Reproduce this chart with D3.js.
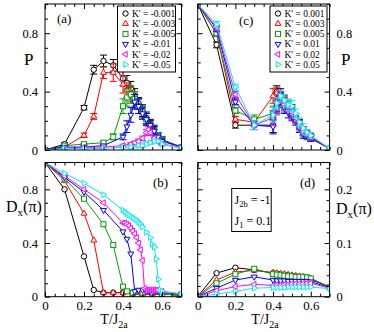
<!DOCTYPE html>
<html>
<head>
<meta charset="utf-8">
<script src="https://cdn.jsdelivr.net/npm/d3@7"></script>
<style>
  body { margin: 0; background: #fff; }
  svg { display: block; }
  text { font-family: "Liberation Serif", "DejaVu Serif", serif; fill: #000; }
</style>
</head>
<body>
<div id="chart"></div>
<script>
// legend texts
const legendA = ["K' = -0.001", "K' = -0.003", "K' = -0.005", "K' = -0.01", "K' = -0.02", "K' = -0.05"];
const legendC = ["K' = 0.001", "K' = 0.003", "K' = 0.005", "K' = 0.01", "K' = 0.02", "K' = 0.05"];

// panel (a): P vs T, K' < 0
const a1T = [0, 0.1, 0.2, 0.25, 0.3, 0.35, 0.4, 0.42, 0.44, 0.46, 0.48, 0.5, 0.52, 0.54, 0.56, 0.58, 0.6, 0.7];
const a1P = [0, 0.04, 0.29, 0.55, 0.61, 0.58, 0.49, 0.46, 0.42, 0.37, 0.32, 0.27, 0.22, 0.18, 0.14, 0.10, 0.07, 0.02];
const a1E = [0, 0.01, 0.015, 0.03, 0.04, 0.04, 0.05, 0.05, 0.05, 0.05, 0.04, 0.04, 0.04, 0.03, 0.03, 0.02, 0.02, 0.005];
const a2T = [0, 0.1, 0.2, 0.25, 0.3, 0.35, 0.4, 0.42, 0.44, 0.46, 0.48, 0.5, 0.52, 0.54, 0.56, 0.58, 0.6, 0.7];
const a2P = [0, 0.02, 0.10, 0.23, 0.53, 0.53, 0.45, 0.41, 0.38, 0.34, 0.30, 0.26, 0.21, 0.17, 0.13, 0.10, 0.07, 0.02];
const a2E = [0, 0.005, 0.015, 0.02, 0.04, 0.06, 0.06, 0.05, 0.05, 0.05, 0.05, 0.04, 0.04, 0.03, 0.03, 0.02, 0.02, 0.005];
const a3T = [0, 0.1, 0.2, 0.3, 0.35, 0.4, 0.42, 0.44, 0.46, 0.48, 0.5, 0.52, 0.54, 0.56, 0.58, 0.6, 0.7];
const a3P = [0, 0.03, 0.04, 0.05, 0.09, 0.30, 0.36, 0.38, 0.35, 0.30, 0.26, 0.21, 0.17, 0.13, 0.10, 0.07, 0.02];
const a3E = [0, 0.005, 0.005, 0.01, 0.02, 0.05, 0.06, 0.06, 0.05, 0.05, 0.04, 0.04, 0.03, 0.03, 0.02, 0.02, 0.005];
const a4T = [0, 0.1, 0.2, 0.3, 0.4, 0.42, 0.44, 0.46, 0.48, 0.5, 0.52, 0.54, 0.56, 0.58, 0.6, 0.7];
const a4P = [0, 0.02, 0.02, 0.03, 0.09, 0.16, 0.24, 0.33, 0.30, 0.25, 0.21, 0.17, 0.13, 0.09, 0.06, 0.02];
const a4E = [0, 0.005, 0.005, 0.005, 0.02, 0.04, 0.05, 0.05, 0.05, 0.04, 0.04, 0.03, 0.03, 0.02, 0.02, 0.005];
const a5T = [0, 0.1, 0.2, 0.3, 0.4, 0.44, 0.46, 0.48, 0.5, 0.52, 0.53, 0.54, 0.56, 0.58, 0.6, 0.7];
const a5P = [0, 0.01, 0.02, 0.02, 0.03, 0.04, 0.05, 0.06, 0.08, 0.12, 0.14, 0.12, 0.08, 0.06, 0.04, 0.02];
const a5E = [0, 0.005, 0.005, 0.005, 0.01, 0.01, 0.01, 0.015, 0.015, 0.02, 0.02, 0.02, 0.015, 0.01, 0.01, 0.005];
const a6T = [0, 0.1, 0.2, 0.3, 0.4, 0.44, 0.48, 0.5, 0.52, 0.54, 0.56, 0.58, 0.6, 0.7];
const a6P = [0, 0.01, 0.01, 0.01, 0.02, 0.02, 0.03, 0.03, 0.04, 0.05, 0.06, 0.06, 0.04, 0.01];
const a6E = [0, 0.005, 0.005, 0.005, 0.005, 0.01, 0.01, 0.01, 0.01, 0.01, 0.01, 0.01, 0.01, 0.005];

// panel (b): Dx(pi) vs T, K' < 0
const b1T = [0, 0.1, 0.2, 0.25, 0.3, 0.35, 0.4, 0.45, 0.5, 0.55, 0.6, 0.7];
const b1D = [1, 0.80, 0.30, 0.05, 0.03, 0.03, 0.03, 0.02, 0.02, 0.02, 0.02, 0.01];
const b2T = [0, 0.1, 0.2, 0.25, 0.3, 0.35, 0.4, 0.45, 0.5, 0.55, 0.6, 0.7];
const b2D = [1, 0.865, 0.62, 0.42, 0.03, 0.03, 0.03, 0.02, 0.02, 0.02, 0.02, 0.01];
const b3T = [0, 0.1, 0.2, 0.3, 0.35, 0.4, 0.42, 0.45, 0.5, 0.55, 0.6, 0.7];
const b3D = [1, 0.88, 0.73, 0.54, 0.385, 0.075, 0.04, 0.03, 0.03, 0.03, 0.02, 0.01];
const b4T = [0, 0.1, 0.2, 0.3, 0.4, 0.42, 0.44, 0.46, 0.48, 0.5, 0.52, 0.54, 0.56, 0.58, 0.6, 0.7];
const b4D = [1, 0.89, 0.78, 0.645, 0.485, 0.43, 0.32, 0.04, 0.05, 0.05, 0.04, 0.04, 0.04, 0.04, 0.03, 0.02];
const b5T = [0, 0.1, 0.2, 0.3, 0.4, 0.41, 0.42, 0.43, 0.44, 0.45, 0.46, 0.47, 0.48, 0.49, 0.5, 0.51, 0.52, 0.53, 0.54, 0.55, 0.56, 0.57, 0.58, 0.6, 0.7];
const b5D = [1, 0.90, 0.80, 0.70, 0.55, 0.55, 0.54, 0.53, 0.51, 0.49, 0.47, 0.44, 0.40, 0.35, 0.27, 0.06, 0.05, 0.05, 0.05, 0.05, 0.05, 0.05, 0.05, 0.04, 0.02];
const b6T = [0, 0.1, 0.2, 0.3, 0.4, 0.41, 0.42, 0.43, 0.44, 0.45, 0.46, 0.47, 0.48, 0.49, 0.5, 0.52, 0.54, 0.55, 0.56, 0.57, 0.58, 0.59, 0.6, 0.7];
const b6D = [1, 0.92, 0.845, 0.76, 0.645, 0.63, 0.62, 0.61, 0.60, 0.59, 0.58, 0.57, 0.555, 0.54, 0.52, 0.48, 0.44, 0.39, 0.37, 0.28, 0.13, 0.05, 0.04, 0.02];

// panels (c) and (d): K' > 0, common temperatures
const tCD = [0, 0.1, 0.2, 0.3, 0.4, 0.42, 0.44, 0.46, 0.48, 0.5, 0.52, 0.54, 0.56, 0.58, 0.6, 0.7];
const c1P = [1, 0.72, 0.17, 0.17, 0.17, 0.40, 0.38, 0.33, 0.30, 0.27, 0.22, 0.18, 0.13, 0.11, 0.09, 0.01];
const c2P = [1, 0.80, 0.21, 0.19, 0.37, 0.39, 0.36, 0.32, 0.30, 0.26, 0.22, 0.17, 0.13, 0.10, 0.08, 0.01];
const c3P = [1, 0.80, 0.27, 0.21, 0.25, 0.28, 0.33, 0.30, 0.29, 0.25, 0.21, 0.16, 0.12, 0.09, 0.08, 0.01];
const c4P = [1, 0.83, 0.33, 0.17, 0.16, 0.30, 0.35, 0.29, 0.26, 0.24, 0.20, 0.15, 0.11, 0.10, 0.08, 0.01];
const c5P = [1, 0.84, 0.38, 0.17, 0.22, 0.29, 0.36, 0.31, 0.30, 0.26, 0.22, 0.17, 0.13, 0.11, 0.09, 0.01];
const c6P = [1, 0.86, 0.43, 0.17, 0.24, 0.32, 0.37, 0.34, 0.31, 0.30, 0.25, 0.19, 0.15, 0.12, 0.10, 0.01];
const cE  = [0, 0.02, 0.02, 0.03, 0.05, 0.04, 0.04, 0.04, 0.04, 0.04, 0.03, 0.03, 0.03, 0.02, 0.02, 0.005];

const d1D = [0, 0.044, 0.054, 0.050, 0.044, 0.043, 0.042, 0.041, 0.040, 0.039, 0.038, 0.037, 0.036, 0.035, 0.032, 0.018];
const d2D = [0, 0.031, 0.046, 0.049, 0.045, 0.044, 0.043, 0.042, 0.041, 0.040, 0.039, 0.038, 0.037, 0.036, 0.034, 0.018];
const d3D = [0, 0.025, 0.042, 0.052, 0.042, 0.041, 0.040, 0.039, 0.038, 0.038, 0.037, 0.037, 0.037, 0.036, 0.034, 0.018];
const d4D = [0, 0.016, 0.031, 0.037, 0.031, 0.030, 0.030, 0.030, 0.029, 0.029, 0.029, 0.029, 0.029, 0.029, 0.028, 0.017];
const d5D = [0, 0.011, 0.019, 0.023, 0.021, 0.022, 0.022, 0.023, 0.023, 0.024, 0.024, 0.024, 0.025, 0.025, 0.025, 0.016];
const d6D = [0, 0.005, 0.010, 0.016, 0.017, 0.017, 0.017, 0.017, 0.018, 0.018, 0.018, 0.018, 0.018, 0.018, 0.018, 0.015];

const xTicks = [0, 0.2, 0.4, 0.6];
const xTickLabels = ['0', '0.2', '0.4', '0.6'];

const colors = ['#000000', '#ff0000', '#00a000', '#0000ff', '#ff00ff', '#00ecf0'];
const shapes = ['circle', 'up', 'square', 'down', 'left', 'right'];

const W = 374, H = 332;
const svg = d3.select('#chart').append('svg').attr('width', W).attr('height', H);
svg.append('rect').attr('width', W).attr('height', H).attr('fill', '#fff');

const zip = (xs, ys, es) => xs.map((t, i) => ({ x: t, y: ys[i], e: es ? es[i] : 0 }));

// Symbol zeichnen
function drawMarker(g, shape, px, py, color) {
  const r = 3.4;
  if (shape === 'circle') {
    g.append('circle').attr('cx', px).attr('cy', py).attr('r', 2.7)
      .attr('fill', '#fff').attr('stroke', color).attr('stroke-width', 1);
    return;
  }
  if (shape === 'square') {
    g.append('rect').attr('x', px - 2.5).attr('y', py - 2.5).attr('width', 5).attr('height', 5)
      .attr('fill', '#fff').attr('stroke', color).attr('stroke-width', 1);
    return;
  }
  const a = r * 0.866, b = r * 0.5;
  let pts;
  if (shape === 'up') pts = [[0, -r], [a, b], [-a, b]];
  else if (shape === 'down') pts = [[0, r], [a, -b], [-a, -b]];
  else if (shape === 'left') pts = [[-r, 0], [b, -a], [b, a]];
  else pts = [[r, 0], [-b, -a], [-b, a]];
  g.append('path')
    .attr('d', 'M' + pts.map(p => (px + p[0]) + ',' + (py + p[1])).join('L') + 'Z')
    .attr('fill', '#fff').attr('stroke', color).attr('stroke-width', 1);
}

function makePanel(cfg) {
  const x = d3.scaleLinear().domain([0, 0.7]).range([cfg.x0, cfg.x1]);
  const y = d3.scaleLinear().domain(cfg.yDom).range([cfg.y1, cfg.y0]);
  const g = svg.append('g');

  const clipId = 'clip' + cfg.id;
  svg.append('clipPath').attr('id', clipId).append('rect')
    .attr('x', cfg.x0).attr('y', cfg.y0).attr('width', cfg.x1 - cfg.x0).attr('height', cfg.y1 - cfg.y0);

  const plot = g.append('g').attr('clip-path', `url(#${clipId})`);
  const line = d3.line().x(d => x(d.x)).y(d => y(d.y));

  cfg.series.forEach((s, i) => {
    const sg = plot.append('g');
    sg.append('path').datum(s).attr('d', line)
      .attr('fill', 'none').attr('stroke', colors[i]).attr('stroke-width', 1);
    // Fehlerbalken
    s.filter(d => d.e > 0.004).forEach(d => {
      const px = x(d.x), yt = y(d.y + d.e), yb = y(d.y - d.e);
      sg.append('path')
        .attr('d', `M${px},${yt}V${yb}M${px - 3.5},${yt}H${px + 3.5}M${px - 3.5},${yb}H${px + 3.5}`)
        .attr('stroke', colors[i]).attr('stroke-width', 1).attr('fill', 'none');
    });
    s.forEach(d => drawMarker(sg, shapes[i], x(d.x), y(d.y), colors[i]));
  });

  // Achsen mit Innen-Ticks
  const xMinor = d3.range(0, 0.701, 0.05).filter(v => !xTicks.some(t => Math.abs(t - v) < 1e-6));
  const yMinor = d3.range(cfg.yDom[0], cfg.yDom[1] + 1e-6, cfg.yMinorStep)
    .filter(v => !cfg.yTicks.some(t => Math.abs(t - v) < 1e-6));

  const style = sel => {
    sel.select('.domain').remove();
    sel.selectAll('line').attr('stroke', '#000').attr('stroke-width', 1);
    sel.selectAll('text').attr('font-family', '"Liberation Serif","DejaVu Serif",serif').attr('fill', '#000');
  };

  g.append('g').attr('transform', `translate(0,${cfg.y1})`)
    .call(d3.axisBottom(x).tickValues(xTicks).tickSize(-5).tickPadding(4)
      .tickFormat(cfg.bottomLabels ? (d, i) => xTickLabels[i] : ''))
    .call(style).call(s => s.selectAll('text').attr('font-size', 13));
  g.append('g').attr('transform', `translate(0,${cfg.y1})`)
    .call(d3.axisBottom(x).tickValues(xMinor).tickSize(-3).tickFormat('')).call(style);
  g.append('g').attr('transform', `translate(0,${cfg.y0})`)
    .call(d3.axisTop(x).tickValues(xTicks).tickSize(-5).tickFormat('')).call(style);
  g.append('g').attr('transform', `translate(0,${cfg.y0})`)
    .call(d3.axisTop(x).tickValues(xMinor).tickSize(-3).tickFormat('')).call(style);

  const leftLab = cfg.labelSide === 'left';
  g.append('g').attr('transform', `translate(${cfg.x0},0)`)
    .call(d3.axisLeft(y).tickValues(cfg.yTicks).tickSize(-5).tickPadding(7)
      .tickFormat(leftLab ? (d, i) => cfg.yTickLabels[i] : ''))
    .call(style).call(s => s.selectAll('text').attr('font-size', 12.5));
  g.append('g').attr('transform', `translate(${cfg.x0},0)`)
    .call(d3.axisLeft(y).tickValues(yMinor).tickSize(-3).tickFormat('')).call(style);
  g.append('g').attr('transform', `translate(${cfg.x1},0)`)
    .call(d3.axisRight(y).tickValues(cfg.yTicks).tickSize(-5).tickPadding(7)
      .tickFormat(!leftLab ? (d, i) => cfg.yTickLabels[i] : ''))
    .call(style).call(s => s.selectAll('text').attr('font-size', 12.5));
  g.append('g').attr('transform', `translate(${cfg.x1},0)`)
    .call(d3.axisRight(y).tickValues(yMinor).tickSize(-3).tickFormat('')).call(style);

  g.append('rect').attr('x', cfg.x0).attr('y', cfg.y0)
    .attr('width', cfg.x1 - cfg.x0).attr('height', cfg.y1 - cfg.y0)
    .attr('fill', 'none').attr('stroke', '#000').attr('stroke-width', 1);

  g.append('text').attr('x', cfg.tagX).attr('y', cfg.tagY).attr('font-size', 13).text(cfg.tag);
  return { g, x, y };
}

makePanel({
  id: 'a', x0: 45, x1: 181.5, y0: 4, y1: 150, yDom: [0, 1],
  yTicks: [0, 0.4, 0.8], yTickLabels: ['0', '0.4', '0.8'], yMinorStep: 0.1, labelSide: 'left',
  bottomLabels: false, tag: '(a)', tagX: 57, tagY: 23,
  series: [zip(a1T, a1P, a1E), zip(a2T, a2P, a2E), zip(a3T, a3P, a3E),
           zip(a4T, a4P, a4E), zip(a5T, a5P, a5E), zip(a6T, a6P, a6E)]
});
makePanel({
  id: 'b', x0: 45, x1: 181.5, y0: 162.5, y1: 296.7, yDom: [0, 1],
  yTicks: [0, 0.4, 0.8], yTickLabels: ['0', '0.4', '0.8'], yMinorStep: 0.1, labelSide: 'left',
  bottomLabels: true, tag: '(b)', tagX: 153, tagY: 187,
  series: [zip(b1T, b1D), zip(b2T, b2D), zip(b3T, b3D), zip(b4T, b4D), zip(b5T, b5D), zip(b6T, b6D)]
});
makePanel({
  id: 'c', x0: 197.7, x1: 329.6, y0: 4, y1: 150, yDom: [0, 1],
  yTicks: [0, 0.4, 0.8], yTickLabels: ['0', '0.4', '0.8'], yMinorStep: 0.1, labelSide: 'right',
  bottomLabels: false, tag: '(c)', tagX: 239, tagY: 25,
  series: [zip(tCD, c1P, cE), zip(tCD, c2P, cE), zip(tCD, c3P, cE),
           zip(tCD, c4P, cE), zip(tCD, c5P, cE), zip(tCD, c6P, cE)]
});
makePanel({
  id: 'd', x0: 197.7, x1: 329.6, y0: 162.5, y1: 296.7, yDom: [0, 0.25],
  yTicks: [0, 0.1, 0.2], yTickLabels: ['0', '0.1', '0.2'], yMinorStep: 0.02, labelSide: 'right',
  bottomLabels: true, tag: '(d)', tagX: 300, tagY: 187,
  series: [zip(tCD, d1D), zip(tCD, d2D), zip(tCD, d3D), zip(tCD, d4D), zip(tCD, d5D), zip(tCD, d6D)]
});

// Legenden
function legend(x0, y0, w, labels) {
  const g = svg.append('g');
  g.append('rect').attr('x', x0).attr('y', y0).attr('width', w).attr('height', 66)
    .attr('fill', '#fff').attr('stroke', '#000').attr('stroke-width', 1);
  labels.forEach((t, i) => {
    const yy = y0 + 7.5 + i * 10.2;
    drawMarker(g, shapes[i], x0 + 8, yy, colors[i]);
    g.append('text').attr('x', x0 + 14.5).attr('y', yy + 3.3).attr('font-size', 9.5).text(t);
  });
}
legend(117.5, 6, 58, legendA);
legend(270, 6, 57, legendC);

// Inset-Box in (d)
const inset = svg.append('g');
inset.append('rect').attr('x', 231.7).attr('y', 188.5).attr('width', 39.5).attr('height', 43)
  .attr('fill', '#fff').attr('stroke', '#000').attr('stroke-width', 1);
const t1 = inset.append('text').attr('x', 234.5).attr('y', 204).attr('font-size', 12);
t1.append('tspan').text('J');
t1.append('tspan').attr('font-size', 8.5).attr('dy', 3).text('2b');
t1.append('tspan').attr('dy', -3).text(' = -1');
const t2 = inset.append('text').attr('x', 234.5).attr('y', 225).attr('font-size', 12);
t2.append('tspan').text('J');
t2.append('tspan').attr('font-size', 8.5).attr('dy', 3).text('1');
t2.append('tspan').attr('dy', -3).text(' = 0.1');

// Achsentitel
svg.append('text').attr('x', 24).attr('y', 65).attr('font-size', 17).text('P');
svg.append('text').attr('x', 341).attr('y', 65).attr('font-size', 17).text('P');

function dxLabel(x, y) {
  const t = svg.append('text').attr('x', x).attr('y', y).attr('font-size', 16);
  t.append('tspan').text('D');
  t.append('tspan').attr('font-size', 11).attr('dy', 4).text('x');
  t.append('tspan').attr('dy', -4).text('(π)');
}
dxLabel(6, 212);
dxLabel(336, 214);

function tLabel(cx) {
  const t = svg.append('text').attr('x', cx).attr('y', 324).attr('font-size', 14).attr('text-anchor', 'middle');
  t.append('tspan').text('T/J');
  t.append('tspan').attr('font-size', 10).attr('dy', 4).text('2a');
}
tLabel(114);
tLabel(265);
</script>
</body>
</html>
